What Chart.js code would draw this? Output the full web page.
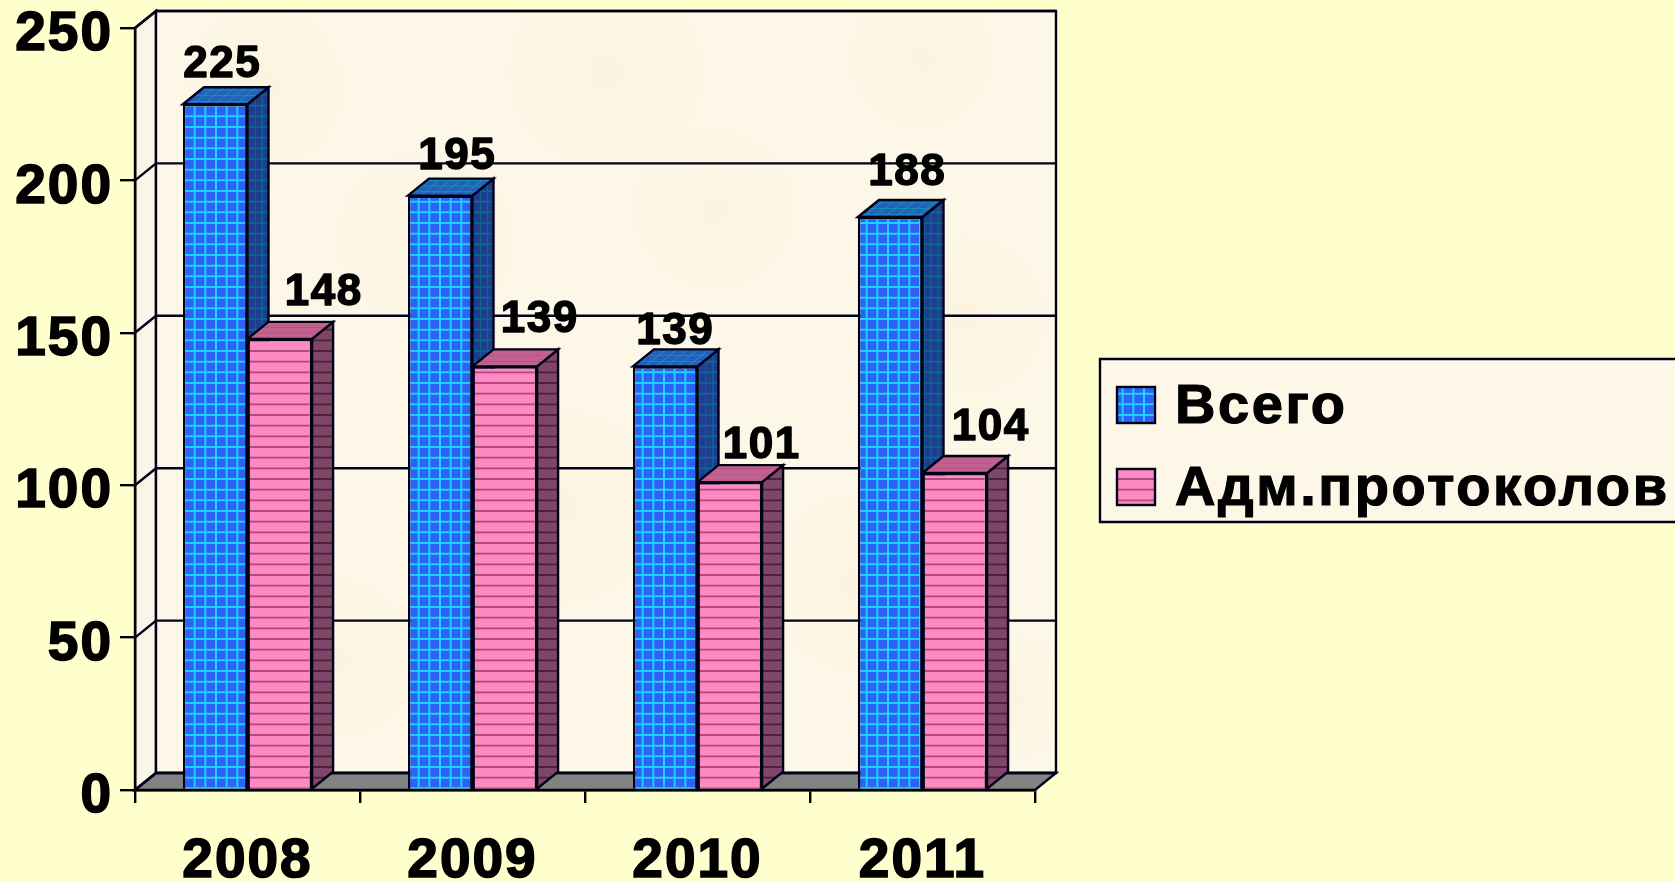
<!DOCTYPE html>
<html lang="ru">
<head>
<meta charset="utf-8">
<style>html,body{margin:0;padding:0;background:#FFFFCE;overflow:hidden}canvas{display:block}</style>
<script src="https://cdn.jsdelivr.net/npm/chart.js@4/dist/chart.umd.js"></script>
</head>
<body>
<canvas id="c" width="1675" height="882"></canvas>
<script>
const categories = ['2008', '2009', '2010', '2011'];
const seriesNames = ['Всего', 'Адм.протоколов'];
const totalValues = [225, 195, 139, 188];
const protocolValues = [148, 139, 101, 104];
const yTicks = [0, 50, 100, 150, 200, 250];

// where the reference's data labels sit relative to the top of their bars
const totalLabelShift = [[7, -41], [17, -41], [10, -36], [17, -46]];
const protocolLabelShift = [[44, -48], [35, -48], [32, -38], [36, -47]];

const FONT = '"Liberation Sans", Arial, sans-serif';
const DEPTH_X = 21, DEPTH_Y = 17;
const INK = '#000018', WALL = '#FDF7E7', PAGE = '#FFFFCE';

function tile(bg, line, lw, vertical, horizontal) {
  const c = document.createElement('canvas');
  c.width = c.height = 32;
  const g = c.getContext('2d');
  g.fillStyle = bg; g.fillRect(0, 0, 32, 32);
  g.strokeStyle = line; g.lineWidth = lw;
  g.beginPath();
  for (const p of [2.67, 13.33, 24]) {
    if (vertical) { g.moveTo(p, 0); g.lineTo(p, 32); }
    if (horizontal) { g.moveTo(0, p + 7); g.lineTo(32, p + 7); }
  }
  g.stroke();
  return c;
}
const ctx = document.getElementById('c').getContext('2d');
function pattern(canvas, m) {
  const p = ctx.createPattern(canvas, 'repeat');
  if (m) p.setTransform(new DOMMatrix(m));
  return p;
}
const SIDE = [0.66, 0, 0, 1, 0, 0], TOP = [1, 0, -0.66, 0.53, 0, 0];
const blueFront = pattern(tile('#2E62F6', '#1FD0FF', 2, true, true));
const blueSide = pattern(tile('#1E3D92', '#0F6A8E', 1.6, true, true), SIDE);
const blueTop = pattern(tile('#2360BC', '#1590B4', 1.5, true, true), TOP);
const pinkFront = pattern(tile('#FF8AC2', '#B04A80', 1.8, false, true));
const pinkSide = pattern(tile('#80466A', '#4A2238', 1.8, false, true), SIDE);
const pinkTop = pattern(tile('#C2618F', '#A94E7C', 1.2, false, true), TOP);

function poly(c, pts, fill) {
  c.beginPath();
  pts.forEach((p, i) => i ? c.lineTo(p[0], p[1]) : c.moveTo(p[0], p[1]));
  c.closePath();
  if (fill) { c.fillStyle = fill; c.fill(); }
  c.strokeStyle = INK; c.lineWidth = 2.4; c.lineJoin = 'miter'; c.stroke();
}

const room = {
  id: 'room',
  beforeDraw(chart) {
    const c = chart.ctx, a = chart.chartArea, y = chart.scales.y;
    c.letterSpacing = '2px';   // stays on the context so the axis labels get it too
    c.save();
    c.fillStyle = PAGE; c.fillRect(0, 0, chart.width, chart.height);
    const L = a.left, R = a.right, T = a.top, B = a.bottom;
    const bl = L + DEPTH_X, br = R + DEPTH_X, bt = T - DEPTH_Y, bb = B - DEPTH_Y;
    poly(c, [[L, T], [bl, bt], [bl, bb], [L, B]], '#FBF4E8');
    poly(c, [[bl, bt], [br, bt], [br, bb], [bl, bb]], WALL);
    // soft mottling of the reference's parchment wall
    c.save();
    c.beginPath(); c.rect(bl + 1, bt + 1, br - bl - 2, bb - bt - 2); c.clip();
    for (const [fx, fy, r] of [[.12,.1,90],[.5,.08,110],[.85,.06,80],[.3,.3,100],[.62,.26,90],[.9,.4,90],[.1,.55,80],[.45,.65,110],[.78,.75,100],[.2,.85,90],[.95,.9,70]]) {
      const x = bl + (br - bl) * fx, yy = bt + (bb - bt) * fy;
      const g = c.createRadialGradient(x, yy, 0, x, yy, r);
      g.addColorStop(0, 'rgba(246,226,190,.16)'); g.addColorStop(1, 'rgba(246,226,190,0)');
      c.fillStyle = g; c.fillRect(x - r, yy - r, 2 * r, 2 * r);
    }
    c.restore();
    poly(c, [[L, B], [bl, bb], [br, bb], [R, B]], '#828282');
    c.strokeStyle = INK; c.lineWidth = 2.4;
    c.beginPath();
    for (const v of yTicks) {
      const p = y.getPixelForValue(v);
      c.moveTo(L, p); c.lineTo(bl, p - DEPTH_Y); c.lineTo(br, p - DEPTH_Y);
    }
    c.stroke();
    c.restore();
  },
  beforeDatasetsDraw(chart) {
    const c = chart.ctx;
    c.save();
    [[0, blueSide, blueTop], [1, pinkSide, pinkTop]].forEach(([i, side, top]) => {
      chart.getDatasetMeta(i).data.forEach(b => {
        const l = b.x - b.width / 2, r = b.x + b.width / 2, t = b.y, base = b.base;
        poly(c, [[r, t], [r + DEPTH_X, t - DEPTH_Y], [r + DEPTH_X, base - DEPTH_Y], [r, base]], side);
        poly(c, [[l, t], [l + DEPTH_X, t - DEPTH_Y], [r + DEPTH_X, t - DEPTH_Y], [r, t]], top);
      });
    });
    c.restore();
  },
  afterDatasetsDraw(chart) {
    const c = chart.ctx;
    c.save();
    c.fillStyle = '#000'; c.strokeStyle = '#000';
    c.font = 'bold 44px ' + FONT;
    c.letterSpacing = '1.5px';
    c.textAlign = 'center'; c.textBaseline = 'middle'; c.lineJoin = 'round';
    [[0, totalLabelShift], [1, protocolLabelShift]].forEach(([i, shift]) => {
      chart.getDatasetMeta(i).data.forEach((b, k) => {
        const t = String(chart.data.datasets[i].data[k]);
        c.lineWidth = 1.4;
        c.strokeText(t, b.x + shift[k][0], b.y + shift[k][1] + 2);
        c.fillText(t, b.x + shift[k][0], b.y + shift[k][1] + 2);
      });
    });
    // legend
    poly(c, [[1100, 359], [1690, 359], [1690, 522], [1100, 522]], WALL);
    c.textAlign = 'left'; c.textBaseline = 'alphabetic';
    c.font = 'bold 56px ' + FONT;
    c.letterSpacing = '2.6px';
    chart.data.datasets.forEach((d, i) => {
      const top = i ? 469 : 387;
      c.fillStyle = d.backgroundColor;
      c.fillRect(1117, top, 38, 36);
      c.strokeStyle = INK; c.lineWidth = 2.4;
      c.strokeRect(1117, top, 38, 36);
      c.fillStyle = '#000'; c.strokeStyle = '#000'; c.lineWidth = 1.2;
      c.strokeText(d.label, 1175, top + 36);
      c.fillText(d.label, 1175, top + 36);
    });
    c.restore();
  }
};

new Chart(ctx, {
  type: 'bar',
  data: {
    labels: categories,
    datasets: [
      { label: seriesNames[0], data: totalValues, backgroundColor: blueFront, borderColor: INK, borderWidth: 2.4 },
      { label: seriesNames[1], data: protocolValues, backgroundColor: pinkFront, borderColor: INK, borderWidth: 2.4 }
    ]
  },
  options: {
    responsive: false,
    animation: false,
    events: [],
    layout: { padding: { left: 0, top: 28, right: 640, bottom: 0 } },
    datasets: { bar: { categoryPercentage: 0.574, barPercentage: 1 } },
    plugins: { legend: { display: false }, tooltip: { enabled: false }, title: { display: false } },
    scales: {
      x: {
        grid: { drawOnChartArea: false, drawTicks: true, tickLength: 13, color: '#000', lineWidth: 2.4 },
        border: { color: '#000', width: 2.4 },
        ticks: { color: '#000', font: { family: FONT, size: 55, weight: 'bold' }, padding: 26, maxRotation: 0, textStrokeColor: '#000', textStrokeWidth: 1.6 },
        afterFit(s) { s.height = 92; s.paddingLeft = 0; s.paddingRight = 0; }
      },
      y: {
        min: 0, max: 250,
        grid: { drawOnChartArea: false, drawTicks: true, tickLength: 15, color: '#000', lineWidth: 2.4 },
        border: { color: '#000', width: 2.4 },
        ticks: { color: '#000', font: { family: FONT, size: 55, weight: 'bold' }, stepSize: 50, padding: 7, labelOffset: 7, textStrokeColor: '#000', textStrokeWidth: 1.6 },
        afterFit(s) { s.width = 135; s.paddingTop = 0; s.paddingBottom = 0; }
      }
    }
  },
  plugins: [room]
});
</script>
</body>
</html>
